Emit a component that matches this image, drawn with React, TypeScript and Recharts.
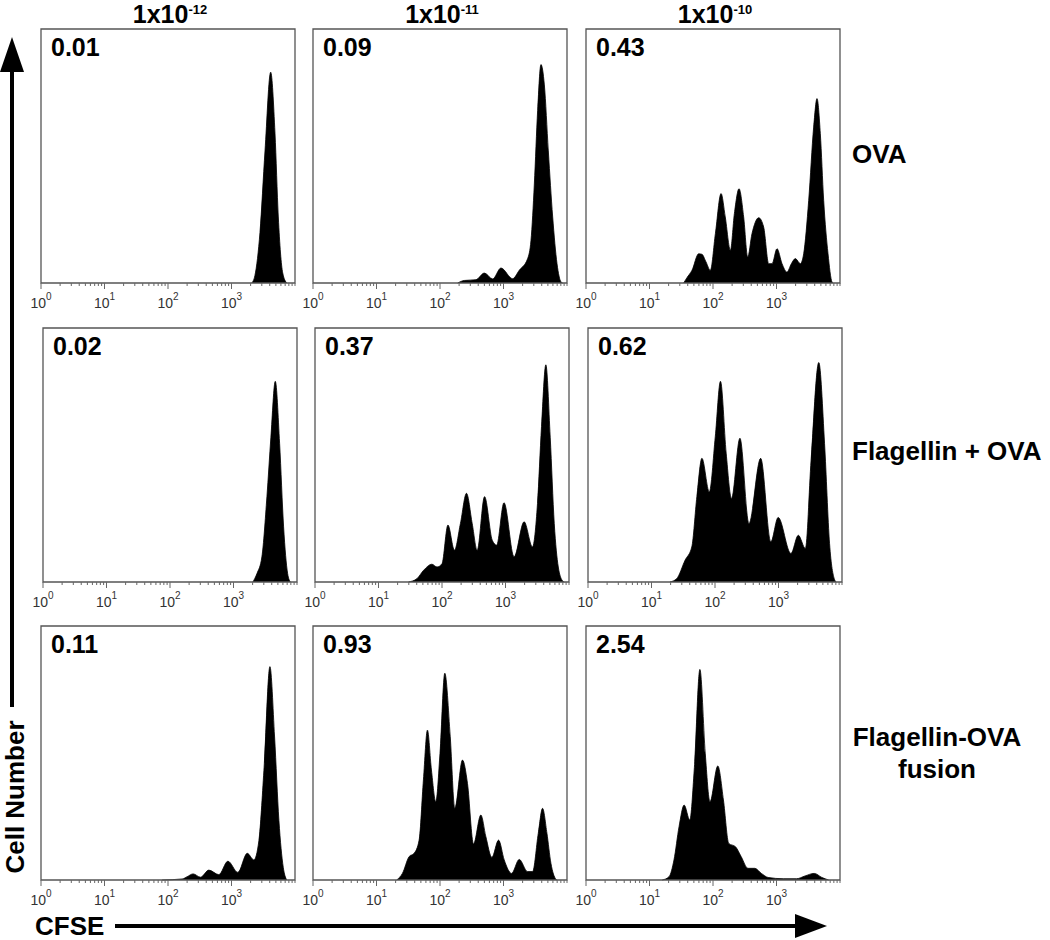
import React from "react";
import { AreaChart, Area, XAxis, YAxis, ReferenceArea } from "recharts";

// CFSE dilution histograms, 3 antigen doses x 3 treatments
const doseExponents = ["-12", "-11", "-10"];
const treatmentLabels = [["OVA"], ["Flagellin + OVA"], ["Flagellin-OVA", "fusion"]];
const divisionIndex = [
  ["0.01", "0.09", "0.43"],
  ["0.02", "0.37", "0.62"],
  ["0.11", "0.93", "2.54"],
];

const decadeTicks = [1, 10, 100, 1000];
const axisTicks = [
  1, 2, 3, 4, 5, 6, 7, 8, 9,
  10, 20, 30, 40, 50, 60, 70, 80, 90,
  100, 200, 300, 400, 500, 600, 700, 800, 900,
  1000, 2000, 3000, 4000, 5000, 6000, 7000, 8000, 9000, 10000,
];

type Pt = { cfse: number; count: number };

const ova12: Pt[] = [
  { cfse: 2080, count: 0 }, { cfse: 2340, count: 3 }, { cfse: 2810, count: 20 },
  { cfse: 3370, count: 52 }, { cfse: 4140, count: 83 }, { cfse: 4840, count: 59 },
  { cfse: 5460, count: 26 }, { cfse: 6400, count: 4 }, { cfse: 7400, count: 0 },
];
const ova11: Pt[] = [
  { cfse: 190, count: 0 }, { cfse: 242, count: 1 }, { cfse: 369, count: 1.3 },
  { cfse: 499, count: 3.9 }, { cfse: 676, count: 1.6 }, { cfse: 912, count: 5.9 },
  { cfse: 1390, count: 1.7 }, { cfse: 1770, count: 5 }, { cfse: 2400, count: 9.6 },
  { cfse: 2710, count: 16.8 }, { cfse: 3060, count: 39 }, { cfse: 3450, count: 68 },
  { cfse: 3890, count: 86 }, { cfse: 4400, count: 78 }, { cfse: 5080, count: 52 },
  { cfse: 5950, count: 26 }, { cfse: 6960, count: 7.6 }, { cfse: 8050, count: 0.4 },
  { cfse: 8530, count: 0 },
];
const ova10: Pt[] = [
  { cfse: 34.5, count: 0 }, { cfse: 38.9, count: 2.1 }, { cfse: 46.7, count: 5 },
  { cfse: 59.5, count: 11.5 }, { cfse: 67, count: 11.3 }, { cfse: 77.6, count: 8.3 },
  { cfse: 90.8, count: 5 }, { cfse: 109, count: 19.4 }, { cfse: 134, count: 35.2 },
  { cfse: 156, count: 26 }, { cfse: 188, count: 12.9 }, { cfse: 217, count: 27.3 },
  { cfse: 257, count: 37.1 }, { cfse: 304, count: 26 }, { cfse: 352, count: 10.2 },
  { cfse: 411, count: 19.4 }, { cfse: 524, count: 25.7 }, { cfse: 628, count: 22 },
  { cfse: 753, count: 7.6 }, { cfse: 850, count: 7.6 }, { cfse: 1019, count: 13.5 },
  { cfse: 1222, count: 7.6 }, { cfse: 1463, count: 4.3 }, { cfse: 1714, count: 7.6 },
  { cfse: 1982, count: 9.6 }, { cfse: 2372, count: 7.6 }, { cfse: 2680, count: 11.5 },
  { cfse: 3213, count: 32.5 }, { cfse: 3848, count: 61.4 }, { cfse: 4344, count: 72.6 },
  { cfse: 4900, count: 58.8 }, { cfse: 5533, count: 32.5 }, { cfse: 6477, count: 11.5 },
  { cfse: 7480, count: 0.4 }, { cfse: 7760, count: 0 },
];

const flaPlus12: Pt[] = [
  { cfse: 2020, count: 0 }, { cfse: 2340, count: 3.3 }, { cfse: 2800, count: 9.9 },
  { cfse: 3360, count: 33.6 }, { cfse: 3880, count: 57 }, { cfse: 4550, count: 79 },
  { cfse: 5320, count: 54.6 }, { cfse: 6150, count: 21.7 }, { cfse: 7120, count: 3.3 },
  { cfse: 7850, count: 0 },
];
const flaPlus11: Pt[] = [
  { cfse: 29.7, count: 0 }, { cfse: 40.2, count: 1.3 }, { cfse: 51.3, count: 4.6 },
  { cfse: 69.5, count: 7 }, { cfse: 83.4, count: 5.9 }, { cfse: 100, count: 7.2 },
  { cfse: 124, count: 22.4 }, { cfse: 157, count: 12.5 }, { cfse: 195, count: 23 },
  { cfse: 243, count: 34.9 }, { cfse: 299, count: 23 }, { cfse: 358, count: 12.5 },
  { cfse: 468, count: 33.6 }, { cfse: 619, count: 16.4 }, { cfse: 725, count: 14.5 },
  { cfse: 947, count: 31.2 }, { cfse: 1364, count: 9.9 }, { cfse: 1963, count: 23.7 },
  { cfse: 2660, count: 13.8 }, { cfse: 3190, count: 30.9 }, { cfse: 3690, count: 61.2 },
  { cfse: 4320, count: 85.5 }, { cfse: 5060, count: 57 }, { cfse: 5860, count: 23 },
  { cfse: 6780, count: 5.9 }, { cfse: 7940, count: 0.4 }, { cfse: 8430, count: 0 },
];
const flaPlus10: Pt[] = [
  { cfse: 19.5, count: 0 }, { cfse: 24.9, count: 1.3 }, { cfse: 33.8, count: 8.6 },
  { cfse: 43.1, count: 13.8 }, { cfse: 51.8, count: 33.6 }, { cfse: 62.2, count: 48.7 },
  { cfse: 81.3, count: 35.5 }, { cfse: 101, count: 57.2 }, { cfse: 122, count: 79 },
  { cfse: 150, count: 50.7 }, { cfse: 182, count: 32.9 }, { cfse: 247, count: 56.6 },
  { cfse: 342, count: 23 }, { cfse: 524, count: 48.7 }, { cfse: 756, count: 15.8 },
  { cfse: 988, count: 25.4 }, { cfse: 1570, count: 11.2 }, { cfse: 2050, count: 18.4 },
  { cfse: 2650, count: 13.2 }, { cfse: 3260, count: 48 }, { cfse: 4310, count: 86.4 },
  { cfse: 5310, count: 54.6 }, { cfse: 6370, count: 15.1 }, { cfse: 7650, count: 0.9 },
  { cfse: 8130, count: 0 },
];

const fusion12: Pt[] = [
  { cfse: 80.8, count: 0 }, { cfse: 167, count: 0.4 }, { cfse: 200, count: 1.3 },
  { cfse: 249, count: 2.4 }, { cfse: 325, count: 1.1 }, { cfse: 440, count: 3.9 },
  { cfse: 632, count: 2.1 }, { cfse: 877, count: 7.4 }, { cfse: 1260, count: 3 },
  { cfse: 1770, count: 10.5 }, { cfse: 2250, count: 7.9 }, { cfse: 2700, count: 15.5 },
  { cfse: 3240, count: 43.2 }, { cfse: 4030, count: 84 }, { cfse: 4770, count: 56.3 },
  { cfse: 5580, count: 23.4 }, { cfse: 6530, count: 5 }, { cfse: 7380, count: 0 },
];
const fusion11: Pt[] = [
  { cfse: 20.8, count: 0 }, { cfse: 25.6, count: 2.6 }, { cfse: 32.6, count: 9.2 },
  { cfse: 39.1, count: 10.5 }, { cfse: 46.9, count: 15.7 }, { cfse: 54.8, count: 39.4 },
  { cfse: 63.4, count: 59 }, { cfse: 73.3, count: 43.3 }, { cfse: 85.9, count: 30.8 },
  { cfse: 100, count: 49.9 }, { cfse: 119, count: 81.4 }, { cfse: 145, count: 56.4 },
  { cfse: 171, count: 28.2 }, { cfse: 226, count: 47.2 }, { cfse: 271, count: 38 },
  { cfse: 337, count: 14.2 }, { cfse: 440, count: 25.6 }, { cfse: 527, count: 17.1 },
  { cfse: 656, count: 8.9 }, { cfse: 836, count: 15.7 }, { cfse: 1026, count: 7.9 },
  { cfse: 1340, count: 2.6 }, { cfse: 1770, count: 8.1 }, { cfse: 2390, count: 3.3 },
  { cfse: 2870, count: 3.3 }, { cfse: 3530, count: 18.4 }, { cfse: 4120, count: 28.2 },
  { cfse: 4830, count: 18.4 }, { cfse: 5580, count: 6.6 }, { cfse: 6690, count: 0.3 },
  { cfse: 6940, count: 0 },
];
const fusion10: Pt[] = [
  { cfse: 15.9, count: 0 }, { cfse: 20.3, count: 1.3 }, { cfse: 24.3, count: 7.9 },
  { cfse: 29.2, count: 21 }, { cfse: 35.1, count: 29.5 }, { cfse: 43.1, count: 23.6 },
  { cfse: 50.6, count: 43.3 }, { cfse: 62.2, count: 82.9 }, { cfse: 75.5, count: 49.9 },
  { cfse: 89.6, count: 30.8 }, { cfse: 119, count: 44.9 }, { cfse: 146, count: 31.5 },
  { cfse: 177, count: 14.4 }, { cfse: 226, count: 13.1 }, { cfse: 278, count: 9.2 },
  { cfse: 355, count: 4.6 }, { cfse: 453, count: 4.6 }, { cfse: 578, count: 2.6 },
  { cfse: 738, count: 1 }, { cfse: 1277, count: 0.5 }, { cfse: 2070, count: 0.5 },
  { cfse: 2820, count: 1.6 }, { cfse: 3920, count: 2.6 }, { cfse: 5180, count: 1 },
  { cfse: 6610, count: 0 },
];

const histograms = [
  [ova12, ova11, ova10],
  [flaPlus12, flaPlus11, flaPlus10],
  [fusion12, fusion11, fusion10],
];

const FONT = "'Liberation Sans', Arial, Helvetica, sans-serif";
const BOX = 254;
const colLeft = [41, 313, 586];
const rowTop = [29, 328, 626];
const rowShift = [0, 2, 0];

function CfseTick(props: any) {
  const { x, y, payload } = props;
  const exp = decadeTicks.indexOf(payload.value);
  const major = exp >= 0;
  return (
    <g>
      <line x1={x} x2={x} y1={y} y2={y + (major ? 6 : 3)} stroke="#666" strokeWidth={1} />
      {major && (
        <text x={x} y={y + 25} textAnchor="middle" style={{ fontSize: 14, fontFamily: FONT }} fill="#333">
          10
          <tspan dy={-8} style={{ fontSize: 10 }}>
            {exp}
          </tspan>
        </text>
      )}
    </g>
  );
}

function Histogram({ data, left, top }: { data: Pt[]; left: number; top: number }) {
  return (
    <div style={{ position: "absolute", left: left - 20, top: top - 10 }}>
      <AreaChart width={BOX + 40} height={BOX + 50} data={data} margin={{ top: 10, right: 20, bottom: 0, left: 20 }}>
        <XAxis
          dataKey="cfse"
          type="number"
          scale="log"
          domain={[1, 10000]}
          allowDataOverflow
          ticks={axisTicks}
          interval={0}
          axisLine={false}
          tickLine={false}
          tickSize={0}
          tickMargin={0}
          height={40}
          tick={(p: any) => <CfseTick {...p} />}
        />
        <YAxis hide domain={[0, 100]} type="number" />
        <Area
          dataKey="count"
          type="monotone"
          stroke="#000"
          strokeWidth={0.8}
          fill="#000"
          fillOpacity={1}
          isAnimationActive={false}
          dot={false}
          activeDot={false}
        />
        <ReferenceArea x1={1} x2={10000} y1={0} y2={100} fill="none" stroke="#555" strokeWidth={1.3} />
      </AreaChart>
    </div>
  );
}

export default function App() {
  return (
    <div style={{ position: "absolute", left: 0, top: 0, width: 1050, height: 940, background: "#fff" }}>
      {histograms.map((row, r) =>
        row.map((data, c) => (
          <Histogram key={`${r}-${c}`} data={data} left={colLeft[c] + rowShift[r]} top={rowTop[r]} />
        ))
      )}
      <svg
        width={1050}
        height={940}
        style={{ position: "absolute", left: 0, top: 0, pointerEvents: "none" }}
        fontFamily={FONT}
      >
        {doseExponents.map((e, c) => (
          <text key={e} x={colLeft[c] + BOX / 2 + 2} y={23} textAnchor="middle" fontSize={25} fontWeight="bold">
            1x10
            <tspan dy={-9} fontSize={13}>
              {e}
            </tspan>
          </text>
        ))}
        {divisionIndex.map((row, r) =>
          row.map((v, c) => (
            <text
              key={`${r}-${c}`}
              x={colLeft[c] + rowShift[r] + 10}
              y={rowTop[r] + 27}
              fontSize={25}
              fontWeight="bold"
            >
              {v}
            </text>
          ))
        )}
        <text x={852} y={163} fontSize={26} fontWeight="bold">
          {treatmentLabels[0][0]}
        </text>
        <text x={852} y={460} fontSize={26} fontWeight="bold">
          {treatmentLabels[1][0]}
        </text>
        <text x={937} y={746} textAnchor="middle" fontSize={26} fontWeight="bold">
          {treatmentLabels[2][0]}
        </text>
        <text x={937} y={778} textAnchor="middle" fontSize={26} fontWeight="bold">
          {treatmentLabels[2][1]}
        </text>
        {/* Cell Number arrow */}
        <line x1={12} x2={12} y1={68} y2={707} stroke="#000" strokeWidth={4} />
        <polygon points="12,37 0,72 24,72" fill="#000" />
        <text transform="translate(24,797) rotate(-90)" textAnchor="middle" fontSize={26} fontWeight="bold">
          Cell Number
        </text>
        {/* CFSE arrow */}
        <text x={35} y={935} fontSize={26} fontWeight="bold">
          CFSE
        </text>
        <line x1={115} x2={798} y1={926} y2={926} stroke="#000" strokeWidth={4} />
        <polygon points="827,926 795,914 795,938" fill="#000" />
      </svg>
    </div>
  );
}
